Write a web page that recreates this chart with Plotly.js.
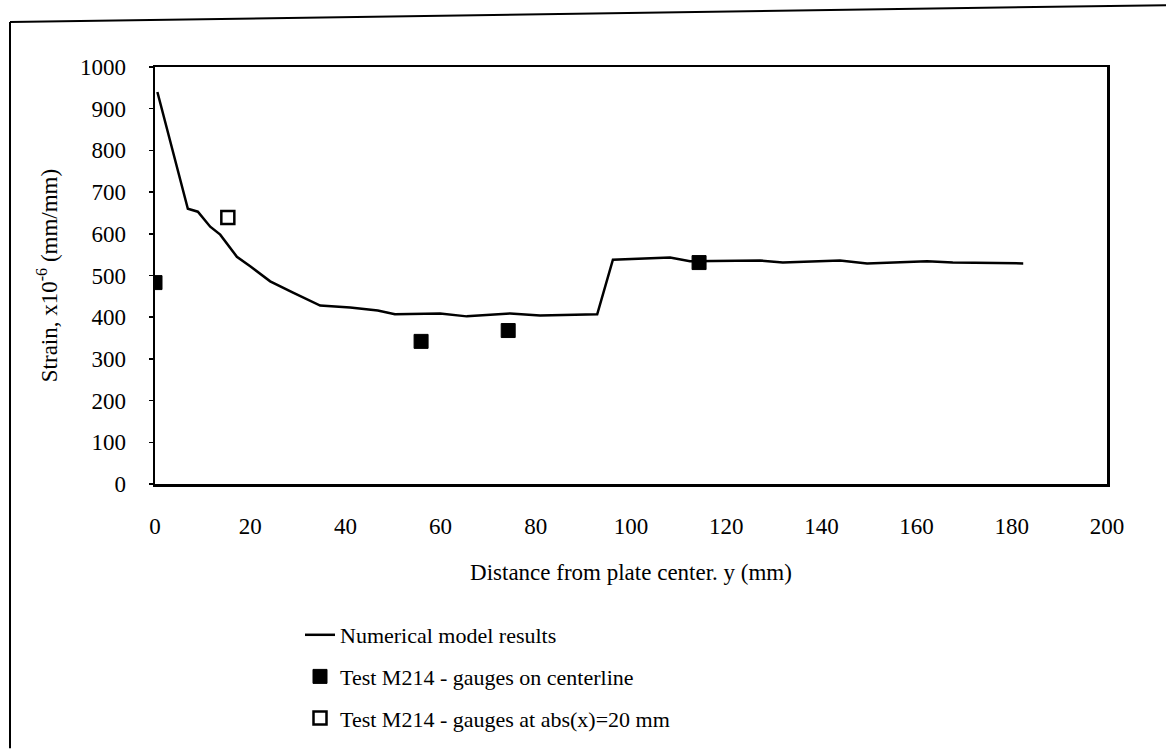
<!DOCTYPE html>
<html>
<head>
<meta charset="utf-8">
<script src="https://cdn.plot.ly/plotly-3.0.1.min.js"></script>
<style>html,body{margin:0;padding:0;background:#fff;}#chart{width:1166px;height:750px;}</style>
</head>
<body>
<div id="chart"></div>
<script>
// Numerical model results
const modelX = [0.5, 6.9, 9.0, 11.6, 13.7, 15.3, 17.2, 20.0, 24.2, 29.0, 34.7, 41.0, 46.8, 50.4, 59.9, 65.5, 74.6, 80.9, 92.9, 96.2, 108.2, 112.4, 127.1, 131.9, 143.9, 149.6, 162.2, 167.6, 182.4];
const modelY = [940, 660, 653, 617, 598, 574, 545, 522, 486, 459, 428, 423, 416, 407, 409, 402, 409, 404, 407, 538, 543, 534, 536, 531, 536, 529, 534, 531, 529];
// Test M214 - gauges on centerline
const centerX = [0, 55.9, 74.2, 114.3];
const centerY = [483, 342, 368, 531];
// Test M214 - gauges at abs(x)=20 mm
const offX = [15.3];
const offY = [639];

const xTicks = [0, 20, 40, 60, 80, 100, 120, 140, 160, 180, 200];
const yTicks = [0, 100, 200, 300, 400, 500, 600, 700, 800, 900, 1000];

const FONT = 'Liberation Serif, Times New Roman, serif';

const traces = [
  {x: modelX, y: modelY, mode: 'lines', name: 'Numerical model results', legendgroup: 'a',
   line: {color: '#000', width: 2.5}},
  {x: centerX, y: centerY, mode: 'markers', name: 'Test M214 - gauges on centerline', legendgroup: 'b',
   marker: {symbol: 'square', size: 14, color: '#000', line: {color: '#000', width: 1}}},
  {x: offX, y: offY, mode: 'markers', name: 'Test M214 - gauges at abs(x)=20 mm', legendgroup: 'c',
   marker: {symbol: 'square-open', size: 13, color: '#000', line: {color: '#000', width: 2.5}}}
];

const L = 155, R = 59, T = 67, B = 265;
const W = 1166 - L - R, H = 750 - T - B;

const layout = {
  width: 1166, height: 750,
  margin: {l: L, r: R, t: T, b: B},
  paper_bgcolor: '#fff', plot_bgcolor: '#fff',
  font: {family: FONT, color: '#000', size: 22},
  showlegend: true,
  legend: {x: (300 - L) / W, y: -(614 - T - H) / H, xanchor: 'left', yanchor: 'top',
           font: {family: FONT, size: 22, color: '#000'}, bgcolor: 'rgba(0,0,0,0)',
           tracegroupgap: 10},
  xaxis: {range: [0, 200], tickvals: xTicks, ticks: '', showgrid: false, zeroline: false,
          showline: true, linecolor: '#000', linewidth: 2.5, mirror: true,
          ticklabelstandoff: 20, tickfont: {size: 23},
          title: {text: 'Distance from plate center. y (mm)', font: {size: 23}, standoff: 26}},
  yaxis: {range: [0, 1000], tickvals: yTicks, ticks: 'outside', ticklen: 4, tickwidth: 1.5,
          tickcolor: '#000', showgrid: false, zeroline: false,
          showline: true, linecolor: '#000', linewidth: 2.5, mirror: true,
          ticklabelstandoff: 18, tickfont: {size: 23},
          title: {text: 'Strain, x10<sup>-6</sup> (mm/mm)', font: {size: 23}, standoff: 16}},
  shapes: [
    {type: 'line', xref: 'paper', yref: 'paper', x0: (10 - L) / W, x1: (1166 - L) / W,
     y0: 1 + (T - 22) / H, y1: 1 + (T - 5) / H, line: {color: '#000', width: 2}},
    {type: 'line', xref: 'paper', yref: 'paper', x0: (10 - L) / W, x1: (10 - L) / W,
     y0: 1 + (T - 22) / H, y1: -(750 - T - H) / H, line: {color: '#000', width: 2}}
  ]
};

Plotly.newPlot('chart', traces, layout, {displayModeBar: false, staticPlot: true});
</script>
</body>
</html>
